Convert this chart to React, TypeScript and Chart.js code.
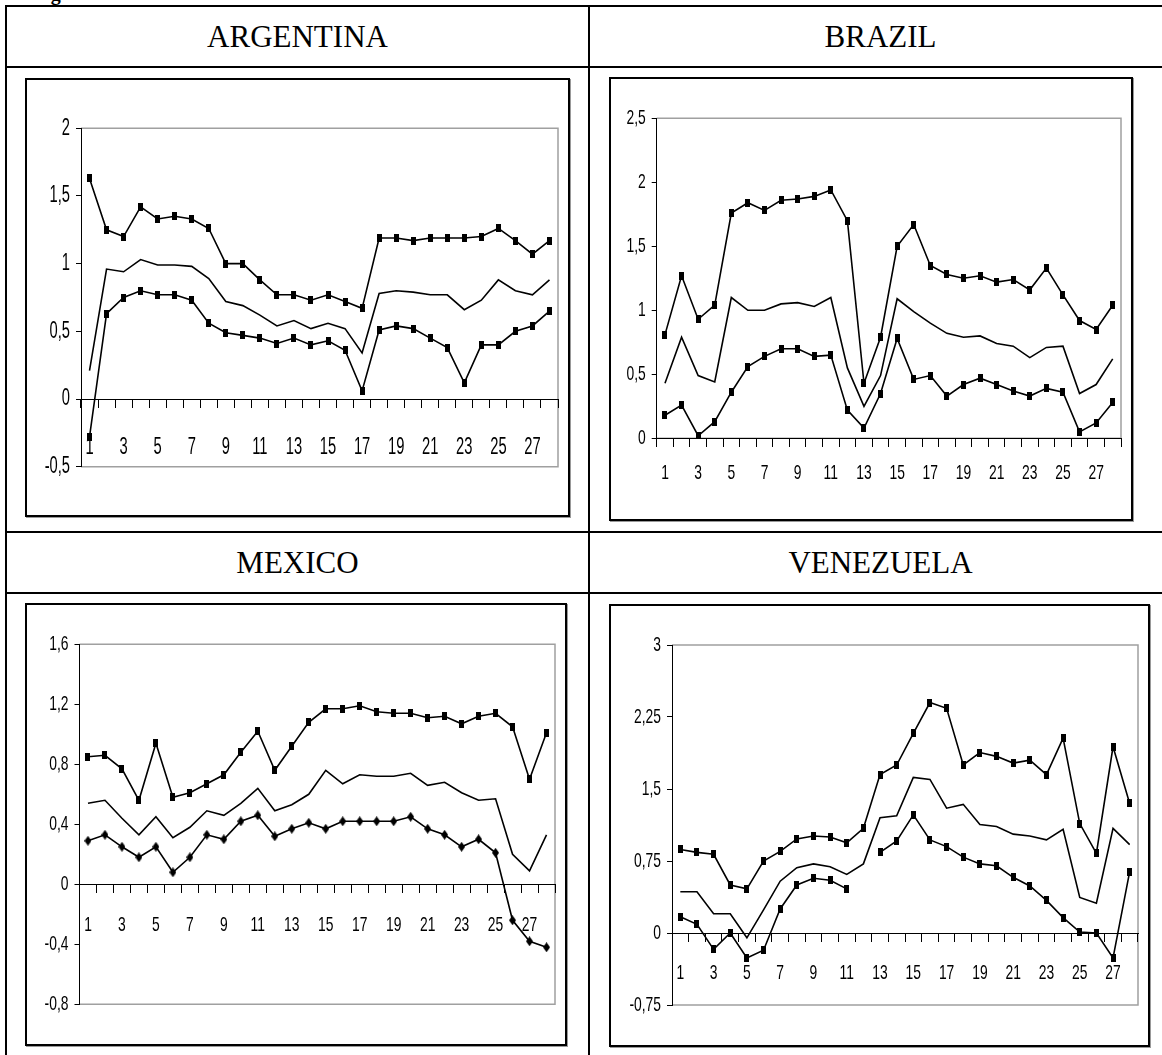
import React, { useEffect, useRef } from 'react';
import { Chart, registerables } from 'chart.js';

Chart.register(...registerables);

// ---------- data ----------
const CATEGORIES = ['1', '2', '3', '4', '5', '6', '7', '8', '9', '10', '11', '12', '13', '14', '15', '16', '17', '18', '19', '20', '21', '22', '23', '24', '25', '26', '27', '28'];
const X_TICK_LABELS = ['1', '3', '5', '7', '9', '11', '13', '15', '17', '19', '21', '23', '25', '27'];

const ARG_UPPER = [1.63, 1.25, 1.2, 1.42, 1.33, 1.35, 1.33, 1.26, 1.0, 1.0, 0.88, 0.77, 0.77, 0.73, 0.77, 0.72, 0.67, 1.19, 1.19, 1.17, 1.19, 1.19, 1.19, 1.2, 1.26, 1.17, 1.07, 1.17];
const ARG_MID = [0.21, 0.96, 0.94, 1.03, 0.99, 0.99, 0.98, 0.89, 0.72, 0.69, 0.62, 0.54, 0.58, 0.52, 0.56, 0.52, 0.34, 0.78, 0.8, 0.79, 0.77, 0.77, 0.66, 0.73, 0.88, 0.8, 0.77, 0.88];
const ARG_LOWER = [-0.28, 0.63, 0.75, 0.8, 0.77, 0.77, 0.73, 0.56, 0.49, 0.47, 0.45, 0.41, 0.45, 0.4, 0.43, 0.36, 0.06, 0.51, 0.54, 0.52, 0.45, 0.38, 0.12, 0.4, 0.4, 0.5, 0.54, 0.65];
const ARG_Y_TICKS = [-0.5, 0, 0.5, 1, 1.5, 2];

const BRA_UPPER = [0.81, 1.27, 0.93, 1.04, 1.76, 1.84, 1.78, 1.86, 1.87, 1.89, 1.94, 1.7, 0.43, 0.79, 1.5, 1.67, 1.35, 1.28, 1.25, 1.27, 1.22, 1.24, 1.16, 1.33, 1.12, 0.92, 0.85, 1.04];
const BRA_MID = [0.43, 0.79, 0.49, 0.44, 1.1, 1.0, 1.0, 1.05, 1.06, 1.03, 1.1, 0.55, 0.25, 0.49, 1.09, 0.99, 0.9, 0.82, 0.79, 0.8, 0.74, 0.72, 0.63, 0.71, 0.72, 0.35, 0.42, 0.62];
const BRA_LOWER = [0.18, 0.26, 0.02, 0.13, 0.36, 0.56, 0.64, 0.7, 0.7, 0.64, 0.65, 0.22, 0.08, 0.35, 0.78, 0.46, 0.49, 0.33, 0.42, 0.47, 0.42, 0.37, 0.33, 0.39, 0.36, 0.05, 0.12, 0.28];
const BRA_Y_TICKS = [0, 0.5, 1, 1.5, 2, 2.5];

const MEX_UPPER = [0.85, 0.86, 0.77, 0.56, 0.94, 0.58, 0.61, 0.67, 0.73, 0.88, 1.02, 0.76, 0.92, 1.08, 1.17, 1.17, 1.19, 1.15, 1.14, 1.14, 1.11, 1.12, 1.07, 1.12, 1.14, 1.05, 0.7, 1.01];
const MEX_MID = [0.54, 0.56, 0.44, 0.33, 0.45, 0.31, 0.38, 0.49, 0.46, 0.54, 0.64, 0.49, 0.53, 0.6, 0.76, 0.67, 0.73, 0.72, 0.72, 0.74, 0.66, 0.68, 0.61, 0.56, 0.57, 0.2, 0.09, 0.33];
const MEX_LOWER = [0.29, 0.33, 0.25, 0.18, 0.25, 0.08, 0.18, 0.33, 0.3, 0.42, 0.46, 0.32, 0.37, 0.41, 0.37, 0.42, 0.42, 0.42, 0.42, 0.45, 0.37, 0.33, 0.25, 0.3, 0.21, -0.24, -0.38, -0.42];
const MEX_Y_TICKS = [-0.8, -0.4, 0, 0.4, 0.8, 1.2, 1.6];

const VEN_UPPER = [0.87, 0.84, 0.82, 0.5, 0.46, 0.75, 0.85, 0.98, 1.01, 1.0, 0.94, 1.09, 1.65, 1.75, 2.08, 2.4, 2.34, 1.75, 1.88, 1.84, 1.77, 1.8, 1.65, 2.03, 1.14, 0.83, 1.94, 1.35];
const VEN_MID = [0.43, 0.43, 0.2, 0.2, -0.05, 0.24, 0.54, 0.68, 0.72, 0.69, 0.61, 0.72, 1.2, 1.22, 1.62, 1.6, 1.3, 1.34, 1.13, 1.11, 1.03, 1.01, 0.97, 1.08, 0.37, 0.31, 1.09, 0.92];
const VEN_LOWER = [0.17, 0.09, -0.17, 0.0, -0.26, -0.18, 0.25, 0.5, 0.57, 0.55, 0.46, null, 0.84, 0.96, 1.23, 0.97, 0.9, 0.79, 0.72, 0.7, 0.58, 0.49, 0.34, 0.16, 0.01, 0.0, -0.26, 0.64];
const VEN_Y_TICKS = [-0.75, 0, 0.75, 1.5, 2.25, 3];

// ---------- markers ----------
function makeRect(w: number, h: number) {
  const c = document.createElement('canvas');
  c.width = w;
  c.height = h;
  const x = c.getContext('2d')!;
  x.fillStyle = '#000';
  x.fillRect(0, 0, w, h);
  return c;
}
function makeDiamond(w: number, h: number) {
  const c = document.createElement('canvas');
  c.width = w;
  c.height = h;
  const x = c.getContext('2d')!;
  x.fillStyle = '#000';
  x.beginPath();
  x.moveTo(w / 2, 0);
  x.lineTo(w, h / 2);
  x.lineTo(w / 2, h);
  x.lineTo(0, h / 2);
  x.closePath();
  x.fill();
  return c;
}
const RECT = makeRect(5, 8);
const DIAMOND = makeDiamond(7, 10);

const SANS = "'Liberation Sans', Arial, sans-serif";
const SERIF = "'Liberation Serif', 'Times New Roman', serif";

const fmt = (v: number) => String(Math.round(v * 100) / 100).replace('.', ',');

const framePlugin = {
  id: 'plotFrame',
  beforeDraw(chart: any) {
    const { ctx, chartArea: a } = chart;
    ctx.save();
    ctx.strokeStyle = '#a0a0a0';
    ctx.lineWidth = 1.5;
    ctx.beginPath();
    ctx.moveTo(a.left, a.top);
    ctx.lineTo(a.right, a.top);
    ctx.lineTo(a.right, a.bottom);
    ctx.lineTo(a.left, a.bottom);
    ctx.stroke();
    ctx.restore();
  },
};

// draws the scales' own tick labels in a horizontally condensed face
const narrowLabelsPlugin = {
  id: 'narrowLabels',
  afterDraw(chart: any, _args: any, opts: any) {
    const { ctx } = chart;
    const xs = chart.scales.x;
    const ys = chart.scales.y;
    ctx.save();
    ctx.fillStyle = '#000';
    ctx.font = `${opts.size}px ${SANS}`;
    ctx.textBaseline = 'middle';
    ctx.textAlign = 'center';
    const yLab = ys.getPixelForValue(0) + 8 + opts.xOffset;
    xs.ticks.forEach((t: any, i: number) => {
      if (!t.label) return;
      ctx.save();
      ctx.translate(xs.getPixelForTick(i), yLab);
      ctx.scale(opts.k, 1);
      ctx.fillText(String(t.label), 0, 0);
      ctx.restore();
    });
    ctx.textAlign = 'right';
    ys.ticks.forEach((t: any, i: number) => {
      ctx.save();
      ctx.translate(ys.right - 5 - opts.yPad, ys.getPixelForTick(i));
      ctx.scale(opts.k, 1);
      ctx.fillText(String(t.label), 0, 0);
      ctx.restore();
    });
    ctx.restore();
  },
};

type PanelCfg = {
  box: { x: number; y: number; w: number; h: number };
  plot: { left: number; top: number; right: number; bottom: number };
  upper: (number | null)[];
  mid: (number | null)[];
  lower: (number | null)[];
  lowerMarker: HTMLCanvasElement;
  yTicks: number[];
  fontSize: number;
  k: number;
  xOffset: number;
};

function Panel({ cfg }: { cfg: PanelCfg }) {
  const ref = useRef<HTMLCanvasElement>(null);
  const cw = cfg.box.w - 4;
  const ch = cfg.box.h - 4;
  const ox = cfg.box.x + 2;
  const oy = cfg.box.y + 2;
  useEffect(() => {
    const plotLeft = cfg.plot.left - ox;
    const padTop = cfg.plot.top - oy;
    const padRight = cw - (cfg.plot.right - ox);
    const padBottom = ch - (cfg.plot.bottom - oy);
    const lineDs = (data: (number | null)[], marker: HTMLCanvasElement | null) => ({
      data,
      borderColor: '#000',
      backgroundColor: '#000',
      borderWidth: 1.6,
      tension: 0,
      pointStyle: marker || 'circle',
      pointRadius: marker ? 3 : 0,
      pointHoverRadius: marker ? 3 : 0,
      fill: false,
      spanGaps: false,
    });
    const chart = new Chart(ref.current!, {
      type: 'line',
      data: {
        labels: CATEGORIES,
        datasets: [lineDs(cfg.upper, RECT), lineDs(cfg.mid, null), lineDs(cfg.lower, cfg.lowerMarker)],
      },
      options: {
        responsive: false,
        animation: false,
        events: [],
        layout: { padding: { left: 0, top: padTop, right: padRight, bottom: padBottom } },
        plugins: {
          legend: { display: false },
          tooltip: { enabled: false },
          title: { display: false },
          narrowLabels: { size: cfg.fontSize, k: cfg.k, xOffset: cfg.xOffset, yPad: 6 },
        } as any,
        scales: {
          x: {
            type: 'category',
            position: { y: 0 } as any,
            offset: true,
            grid: { display: true, drawOnChartArea: false, drawTicks: true, tickLength: 8, color: '#000', lineWidth: 1, offset: true },
            border: { display: true, color: '#000', width: 1 },
            ticks: {
              autoSkip: false,
              maxRotation: 0,
              minRotation: 0,
              padding: 0,
              color: 'rgba(0,0,0,0)',
              font: { family: SANS, size: cfg.fontSize },
              callback: (_v: any, i: number) => (X_TICK_LABELS.includes(CATEGORIES[i]) ? CATEGORIES[i] : ''),
            },
          },
          y: {
            type: 'linear',
            min: cfg.yTicks[0],
            max: cfg.yTicks[cfg.yTicks.length - 1],
            afterBuildTicks: (s: any) => {
              s.ticks = cfg.yTicks.map((v) => ({ value: v }));
            },
            afterFit: (s: any) => {
              s.width = plotLeft;
            },
            grid: { display: true, drawOnChartArea: false, drawTicks: true, tickLength: 5, color: '#000', lineWidth: 1 },
            border: { display: true, color: '#000', width: 1 },
            ticks: {
              padding: 6,
              color: 'rgba(0,0,0,0)',
              font: { family: SANS, size: cfg.fontSize },
              callback: (v: any) => fmt(Number(v)),
            },
          },
        },
      },
      plugins: [framePlugin, narrowLabelsPlugin],
    });
    return () => chart.destroy();
  }, []);
  return (
    <div
      style={{
        position: 'absolute',
        left: cfg.box.x,
        top: cfg.box.y,
        width: cw,
        height: ch,
        border: '2px solid #000',
        boxShadow: '1px 1px 0 #999',
        background: '#fff',
      }}
    >
      <canvas ref={ref} width={cw} height={ch} style={{ display: 'block', width: cw, height: ch }} />
    </div>
  );
}

const PANELS: Record<string, PanelCfg> = {
  arg: {
    box: { x: 25, y: 78, w: 545, h: 439 },
    plot: { left: 81, top: 128.3, right: 558, bottom: 466.7 },
    upper: ARG_UPPER,
    mid: ARG_MID,
    lower: ARG_LOWER,
    lowerMarker: RECT,
    yTicks: ARG_Y_TICKS,
    fontSize: 23,
    k: 0.64,
    xOffset: 40.5,
  },
  bra: {
    box: { x: 609, y: 77, w: 524, h: 444 },
    plot: { left: 656.7, top: 118.3, right: 1121, bottom: 438.3 },
    upper: BRA_UPPER,
    mid: BRA_MID,
    lower: BRA_LOWER,
    lowerMarker: RECT,
    yTicks: BRA_Y_TICKS,
    fontSize: 21,
    k: 0.66,
    xOffset: 27,
  },
  mex: {
    box: { x: 25, y: 603, w: 542, h: 443 },
    plot: { left: 79.5, top: 644.3, right: 555, bottom: 1004.3 },
    upper: MEX_UPPER,
    mid: MEX_MID,
    lower: MEX_LOWER,
    lowerMarker: DIAMOND,
    yTicks: MEX_Y_TICKS,
    fontSize: 21,
    k: 0.66,
    xOffset: 33,
  },
  ven: {
    box: { x: 609, y: 604, w: 541, h: 443 },
    plot: { left: 672, top: 645, right: 1138, bottom: 1005 },
    upper: VEN_UPPER,
    mid: VEN_MID,
    lower: VEN_LOWER,
    lowerMarker: RECT,
    yTicks: VEN_Y_TICKS,
    fontSize: 21,
    k: 0.66,
    xOffset: 32,
  },
};

const line = (left: number, top: number, width: number, height: number) => (
  <div style={{ position: 'absolute', left, top, width, height, background: '#000' }} />
);

const Header = ({ text, left, top, width }: { text: string; left: number; top: number; width: number }) => (
  <div
    style={{
      position: 'absolute',
      left,
      top,
      width,
      height: 59,
      display: 'flex',
      alignItems: 'center',
      justifyContent: 'center',
      fontFamily: SERIF,
      fontSize: 31,
      color: '#000',
    }}
  >
    {text}
  </div>
);

export default function App() {
  return (
    <div
      style={{
        position: 'fixed',
        left: 0,
        top: 0,
        width: 1162,
        height: 1055,
        overflow: 'hidden',
        background: '#fff',
      }}
    >
      <div
        style={{
          position: 'absolute',
          left: 33,
          top: -17,
          fontFamily: SERIF,
          fontWeight: 'bold',
          fontSize: 20,
          lineHeight: '20px',
          whiteSpace: 'nowrap',
        }}
      >
        Figure
      </div>
      {line(5, 5, 1170, 2)}
      {line(5, 5, 2, 1060)}
      {line(5, 66, 1170, 2)}
      {line(588, 5, 2, 1060)}
      {line(5, 531, 1170, 2)}
      {line(5, 592, 1170, 2)}
      <Header text="ARGENTINA" left={7} top={7} width={581} />
      <Header text="BRAZIL" left={590} top={7} width={581} />
      <Header text="MEXICO" left={7} top={533} width={581} />
      <Header text="VENEZUELA" left={590} top={533} width={581} />
      <Panel cfg={PANELS.arg} />
      <Panel cfg={PANELS.bra} />
      <Panel cfg={PANELS.mex} />
      <Panel cfg={PANELS.ven} />
    </div>
  );
}
